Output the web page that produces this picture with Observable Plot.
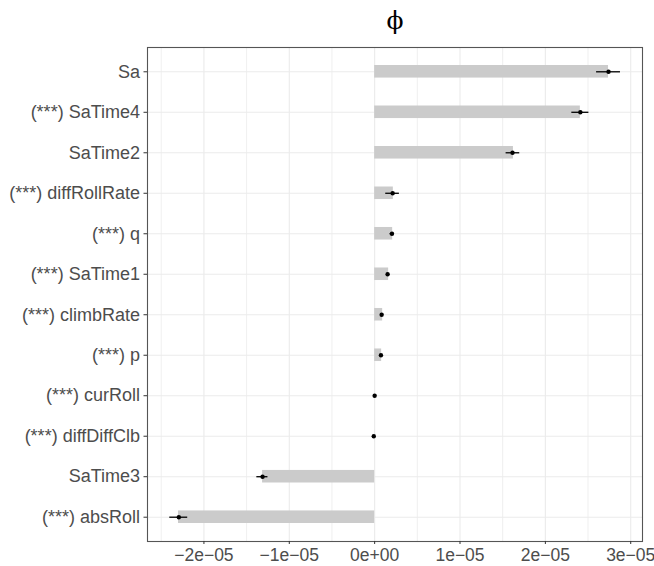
<!DOCTYPE html>
<html>
<head>
<meta charset="utf-8">
<script src="https://cdn.jsdelivr.net/npm/d3@7"></script>
<script src="https://cdn.jsdelivr.net/npm/@observablehq/plot@0.6"></script>
<style>
  html, body { margin: 0; padding: 0; background: #fff; }
  #chart { width: 654px; height: 566px; }
</style>
</head>
<body>
<div id="chart"></div>
<script>
const title = "ϕ";
const variables = ["Sa", "(***) SaTime4", "SaTime2", "(***) diffRollRate", "(***) q", "(***) SaTime1",
  "(***) climbRate", "(***) p", "(***) curRoll", "(***) diffDiffClb", "SaTime3", "(***) absRoll"];
const barValues = [2.74e-5, 2.41e-5, 1.626e-5, 0.219e-5, 0.211e-5, 0.164e-5, 0.094e-5, 0.082e-5, 0.0, -0.005e-6, -1.313e-5, -2.298e-5];
const pointValues = [2.74e-5, 2.41e-5, 1.615e-5, 0.211e-5, 0.203e-5, 0.152e-5, 0.082e-5, 0.074e-5, 0.0, -0.01e-5, -1.313e-5, -2.294e-5];
const errLow = [2.60e-5, 2.31e-5, 1.54e-5, 0.13e-5, 0.18e-5, 0.14e-5, 0.07e-5, 0.06e-5, -0.01e-5, -0.02e-5, -1.38e-5, -2.40e-5];
const errHigh = [2.88e-5, 2.51e-5, 1.70e-5, 0.29e-5, 0.23e-5, 0.17e-5, 0.10e-5, 0.09e-5, 0.01e-5, 0.00e-5, -1.25e-5, -2.19e-5];
const xTicks = [-2e-5, -1e-5, 0, 1e-5, 2e-5, 3e-5];
const xTickLabels = ["−2e−05", "−1e−05", "0e+00", "1e−05", "2e−05", "3e−05"];
const xMinorTicks = [-2.5e-5, -1.5e-5, -0.5e-5, 0.5e-5, 1.5e-5, 2.5e-5];

const rows = variables.map((v, i) => ({v, bar: barValues[i], pt: pointValues[i], lo: errLow[i], hi: errHigh[i]}));

const chart = Plot.plot({
  width: 654,
  height: 566,
  marginLeft: 147,
  marginRight: 12,
  marginTop: 47,
  marginBottom: 25,
  style: {fontFamily: "'Liberation Sans', Arial, sans-serif", fontSize: "17.5px", color: "#4d4d4d", background: "#fff"},
  x: {domain: [-2.661e-5, 3.138e-5], label: null},
  y: {domain: variables, paddingInner: 0.69, paddingOuter: 0.445, round: false, label: null},
  marks: [
    Plot.ruleX(xMinorTicks, {stroke: "#ebebeb", strokeWidth: 0.8}),
    Plot.ruleX(xTicks, {stroke: "#ebebeb", strokeWidth: 1.1}),
    Plot.gridY({stroke: "#ebebeb", strokeOpacity: 1, strokeWidth: 1.1}),
    Plot.barX(rows, {x: "bar", y: "v", fill: "#cbcbcb"}),
    Plot.ruleY(rows, {x1: "lo", x2: "hi", y: "v", stroke: "#000", strokeWidth: 1.3}),
    Plot.dot(rows, {x: "pt", y: "v", r: 2.2, fill: "#000", stroke: null}),
    Plot.frame({stroke: "#555", strokeWidth: 1.1}),
    Plot.axisX(xTicks, {tickFormat: (d) => xTickLabels[xTicks.indexOf(d)], tickSize: 3, tickPadding: 4, stroke: "#333", fill: "#4d4d4d", fontSize: 17.5, label: null}),
    Plot.axisY({tickSize: 3.5, tickPadding: 4, stroke: "#333", fill: "#4d4d4d", fontSize: 18, label: null}),
    Plot.text([title], {frameAnchor: "top", lineAnchor: "middle", dy: -27, fontSize: 25, fill: "#000", fontFamily: "'DejaVu Serif', serif"})
  ]
});
document.getElementById("chart").appendChild(chart);
</script>
</body>
</html>
